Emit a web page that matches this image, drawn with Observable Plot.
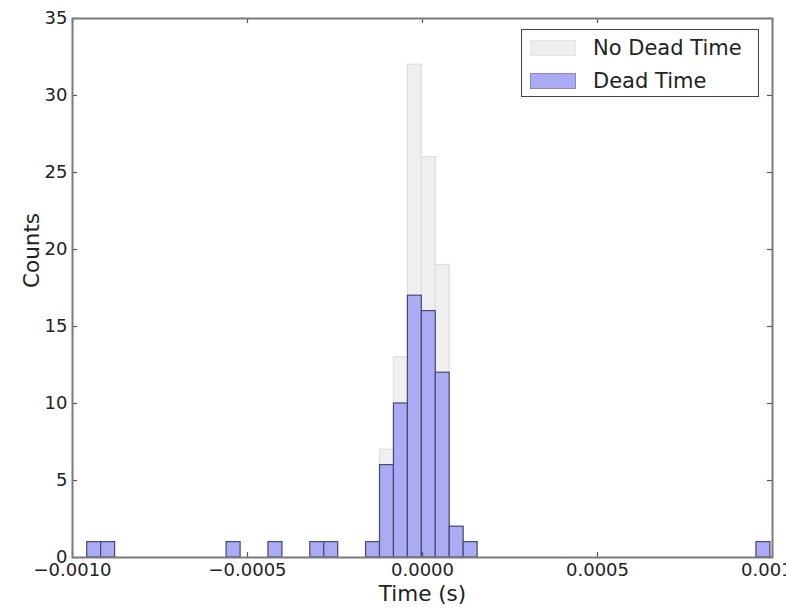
<!DOCTYPE html>
<html><head><meta charset="utf-8">
<script src="https://cdn.jsdelivr.net/npm/d3@7"></script>
<script src="https://cdn.jsdelivr.net/npm/@observablehq/plot@0.6"></script>
<style>
html,body{margin:0;padding:0;background:#fff;overflow:hidden;}
#wrap{position:relative;width:786px;height:609px;}
.legend{position:absolute;left:521px;top:29px;width:236px;height:66px;border:1.5px solid #444;background:#fff;font-family:"DejaVu Sans",sans-serif;font-size:21px;color:#222;}
.legend .row{position:absolute;left:8px;height:16px;}
.legend .sw{position:absolute;left:0;top:0;width:46px;height:16px;box-sizing:border-box;}
.legend .lab{position:absolute;left:63px;top:50%;transform:translateY(-50%);white-space:nowrap;line-height:1;}
</style>
</head><body>
<div id="wrap"></div>
<script>
// Histogram definition (range and number of bins)
const histStart = -0.000958;
const histEnd = 0.000994;
const nBins = 49;
// Non-empty bins: bin index and counts
const binIndex = [0, 1, 10, 13, 16, 17, 20, 21, 22, 23, 24, 25, 26, 27, 48];
const noDeadCounts = [1, 1, 1, 1, 1, 1, 1, 7, 13, 32, 26, 19, 2, 1, 1];
const deadCounts   = [1, 1, 1, 1, 1, 1, 1, 6, 10, 17, 16, 12, 2, 1, 1];
const seriesNames = ["No Dead Time", "Dead Time"];
const seriesColors = ["#efefef", "#aaaaf5"];
const xTicks = [-0.001, -0.0005, 0, 0.0005, 0.001];
const yTicks = [0, 5, 10, 15, 20, 25, 30, 35];
const xDomain = [-0.001, 0.001];
const yDomain = [0, 35];
const xLabel = "Time (s)";
const yLabel = "Counts";

const W = 786, H = 609;
const mL = 72, mR = 14, mT = 18, mB = 52;
const innerW = W - mL - mR, innerH = H - mT - mB;
const bw = (histEnd - histStart) / nBins;

const rows = (counts) => binIndex.map((b, i) => ({
  x1: histStart + b * bw, x2: histStart + (b + 1) * bw, count: counts[i]
}));
const noDead = rows(noDeadCounts);
const dead = rows(deadCounts);
const fmt = d3.format(".4f");

const chart = Plot.plot({
  width: W, height: H,
  marginLeft: mL, marginRight: mR, marginTop: mT, marginBottom: mB,
  style: {fontFamily: "DejaVu Sans, sans-serif", fontSize: "18px", color: "#222", background: "white", overflow: "visible"},
  x: {domain: xDomain, axis: null},
  y: {domain: yDomain, axis: null},
  marks: [
    Plot.rectY(noDead, {x1: "x1", x2: "x2", y: "count", fill: seriesColors[0], stroke: "#dedede", strokeWidth: 1.2}),
    Plot.rectY(dead, {x1: "x1", x2: "x2", y: "count", fill: seriesColors[1], stroke: "#4a4a70", strokeWidth: 1.2}),
    // inward ticks on all four sides
    Plot.tickX(xTicks, {x: d => d, insetTop: innerH - 5, stroke: "#555", strokeWidth: 1.2}),
    Plot.tickX(xTicks, {x: d => d, insetBottom: innerH - 5, stroke: "#555", strokeWidth: 1.2}),
    Plot.tickY(yTicks, {y: d => d, insetRight: innerW - 5, stroke: "#555", strokeWidth: 1.2}),
    Plot.tickY(yTicks, {y: d => d, insetLeft: innerW - 5, stroke: "#555", strokeWidth: 1.2}),
    Plot.axisX(xTicks, {anchor: "bottom", tickSize: 0, tickPadding: 6, tickFormat: fmt, fontSize: 18, label: null}),
    Plot.axisY(yTicks, {anchor: "left", tickSize: 0, tickPadding: 5, fontSize: 18, label: null}),
    Plot.frame({stroke: "#7a7a7a", strokeWidth: 2}),
    Plot.text([xLabel], {text: d => d, frameAnchor: "bottom", dy: 43, fontSize: 21.5, fill: "#222"}),
    Plot.text([yLabel], {text: d => d, frameAnchor: "left", dx: -40, rotate: -90, fontSize: 21.5, fill: "#222"})
  ]
});

const wrap = document.getElementById("wrap");
wrap.appendChild(chart);

const legend = document.createElement("div");
legend.className = "legend";
const tops = [10, 43];
seriesNames.forEach((name, i) => {
  const row = document.createElement("div");
  row.className = "row";
  row.style.top = tops[i] + "px";
  row.style.width = "220px";
  const sw = document.createElement("div");
  sw.className = "sw";
  sw.style.background = seriesColors[i];
  sw.style.border = i === 0 ? "1px solid #e4e4e4" : "1px solid #8888c8";
  const lab = document.createElement("span");
  lab.className = "lab";
  lab.textContent = name;
  row.appendChild(sw); row.appendChild(lab);
  legend.appendChild(row);
});
wrap.appendChild(legend);
</script>
</body></html>
